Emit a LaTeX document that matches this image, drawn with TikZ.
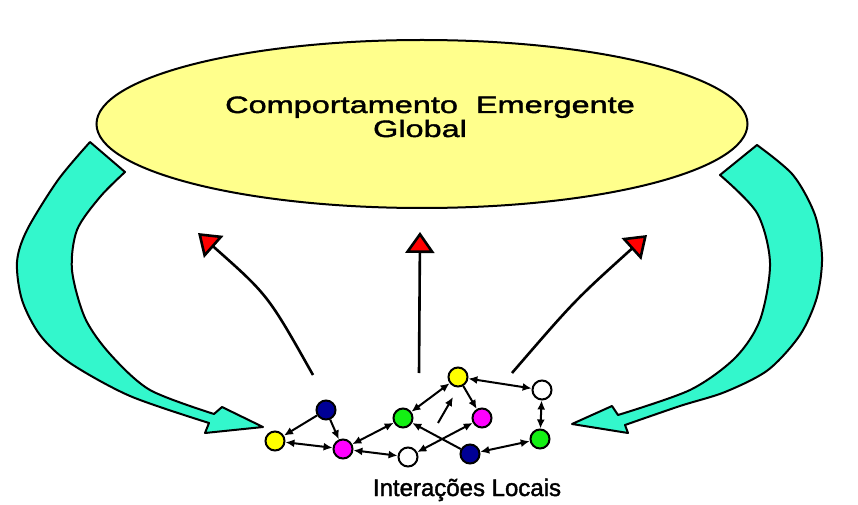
\documentclass[tikz,border=0pt]{standalone}
\usepackage{fontspec}
\setmainfont{Liberation Sans}
\newfontfamily\widesans[FakeStretch=1.37,FakeBold=1.6]{Liberation Sans}
\newfontfamily\heavysans[FakeBold=1.6]{Liberation Sans}
\usetikzlibrary{arrows.meta,shapes.geometric}
\definecolor{bandcyan}{RGB}{51,247,204}
\definecolor{blobyellow}{RGB}{255,255,140}
\definecolor{ballyellow}{RGB}{255,255,0}
\definecolor{ballblue}{RGB}{0,0,150}
\definecolor{ballpink}{RGB}{255,0,255}
\definecolor{ballgreen}{RGB}{20,240,20}
\tikzset{agent/.style={circle,draw,line width=2pt,minimum size=19pt,inner sep=0pt}}

\begin{document}
\begin{tikzpicture}[x=1pt,y=-1pt,
    link/.style={line width=2pt,{Latex[length=9pt,width=8pt]}-{Latex[length=9pt,width=8pt]}},
    onelink/.style={line width=2pt,-{Latex[length=9pt,width=8pt]}},
    rise/.style={line width=2.6pt,-{Triangle[length=21pt,width=29pt,fill=red]}},
    flow/.style={draw,line width=2pt,fill=bandcyan,line join=round},
    title/.style={anchor=base,font=\widesans\fontsize{23.7}{28}\selectfont}]
            \fill[white] (0,0) rectangle (858,503);

            \node[ellipse,draw,line width=2pt,fill=blobyellow,inner sep=0pt,
                  minimum width=651pt,minimum height=168pt] (G0) at (422,124) {};
            \node[title] (T1) at (430,113) {Comportamento\ \ Emergente};
            \node[title] (T2) at (420,137) {Global};

            \draw[flow] plot[smooth] coordinates {(90,142) (58,180) (27,230) (17,262) (22,300)
                    (40,335) (70,363) (130,396) (209,423)}
                -- (205,433) -- (263,427) -- (222,407)
                -- plot[smooth] coordinates {(214,414) (150,390) (110,354) (85,318) (72,270)
                    (77,230) (100,197) (125,172)} -- cycle;
            \draw[flow] plot[smooth] coordinates {(757,145) (793,175) (815,215) (822,257)
                    (817,297) (800,335) (768,370) (725,392) (680,406) (625,425)}
                -- (628,433) -- (572,424) -- (612,406)
                -- plot[smooth] coordinates {(618,415) (690,390) (735,358) (760,320)
                    (770,263) (757,213) (720,175)} -- cycle;

            \node[agent,fill=ballyellow] (A) at (275,441) {};
            \node[agent,fill=ballblue] (B) at (326,410) {};
            \node[agent,fill=ballpink] (C) at (343,449) {};
            \node[agent,fill=white] (D) at (408,457) {};
            \node[agent,fill=ballgreen] (E) at (403,418) {};
            \node[agent,fill=ballyellow] (F) at (458,377) {};
            \node[agent,fill=ballpink] (H) at (482,418) {};
            \node[agent,fill=ballblue] (K) at (470,454) {};
            \node[agent,fill=white] (W) at (542,390) {};
            \node[agent,fill=ballgreen] (J) at (540,439) {};

            \draw[onelink] (B) -- (A);
            \draw[onelink] (B) -- (C);
            \draw[link] (A) -- (C);
            \draw[link] (C) -- (D);
            \draw[link] (C) -- (E);
            \draw[link] (E) -- (F);
            \draw[onelink] (F) -- (H);
            \draw[link] (F) -- (W);
            \draw[link] (W) -- (J);
            \draw[link] (J) -- (K);
            \draw[onelink] (K) -- (E);
            \draw[link] (D) -- (H);
            \coordinate (p) at (438,423);
            \coordinate (q) at (453,397);
            \draw[onelink] (p) -- (q);

            \coordinate (s1) at (313,375);
            \coordinate (t1) at (198,233);
            \coordinate (s2) at (419,373);
            \coordinate (t2) at (420,232);
            \coordinate (s3) at (512,373);
            \coordinate (t3) at (647,235);
            \draw[rise] (s1) .. controls (268,295) .. (t1);
            \draw[rise] (s2) -- (t2);
            \draw[rise] (s3) .. controls (575,300) .. (t3);

            \node[anchor=base,font=\heavysans\fontsize{24}{28}\selectfont] (L) at (467,496) {Interações Locais};
        \end{tikzpicture}
\end{document}
